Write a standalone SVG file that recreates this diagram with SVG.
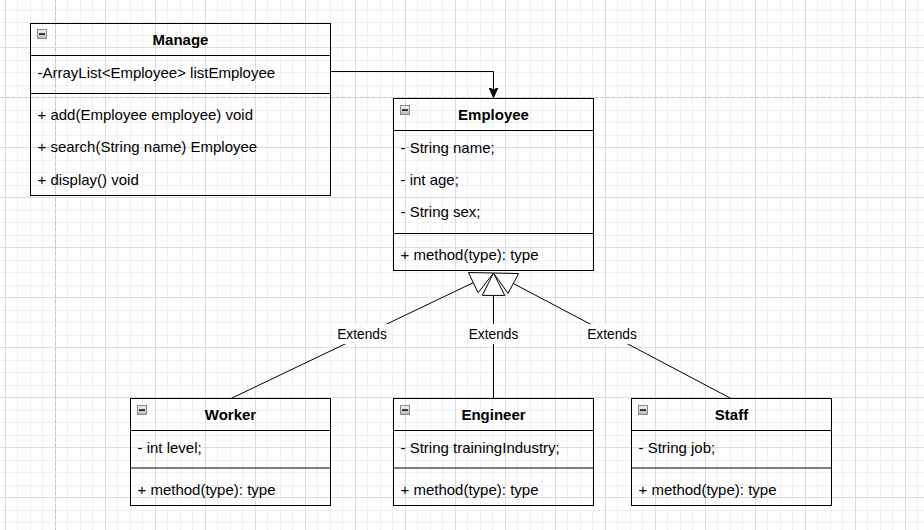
<svg xmlns="http://www.w3.org/2000/svg" width="924" height="530" viewBox="0 0 924 530">
  <defs>
    <pattern id="grid" patternUnits="userSpaceOnUse" x="5" y="-3" width="50" height="50">
      <rect x="12" y="0" width="1" height="50" fill="#f0f0f0"/>
      <rect x="25" y="0" width="1" height="50" fill="#f0f0f0"/>
      <rect x="37" y="0" width="1" height="50" fill="#f0f0f0"/>
      <rect x="0" y="13" width="50" height="1" fill="#f0f0f0"/>
      <rect x="0" y="25" width="50" height="1" fill="#f0f0f0"/>
      <rect x="0" y="38" width="50" height="1" fill="#f0f0f0"/>
      <rect x="0" y="0" width="1" height="50" fill="#dcdcdc"/>
      <rect x="0" y="0" width="50" height="1" fill="#dcdcdc"/>
    </pattern>
    <linearGradient id="icoGrad" x1="0" y1="0" x2="0" y2="1">
      <stop offset="0" stop-color="#f4f4f4"/>
      <stop offset="1" stop-color="#b8b8b8"/>
    </linearGradient>
    <g id="ico">
      <rect x="0.5" y="0.5" width="9" height="9" fill="url(#icoGrad)" stroke="#8a8a8a" stroke-width="1"/>
      <rect x="2" y="4.3" width="6" height="1.6" fill="#111"/>
    </g>
    <marker id="classic" viewBox="0 0 10 12" refX="10" refY="6" markerWidth="10" markerHeight="12" markerUnits="userSpaceOnUse" orient="auto">
      <path d="M0,1.5 L10,6 L0,10.5 L2.5,6 Z" fill="#000" stroke="#000" stroke-width="1"/>
    </marker>
  </defs>
  <style>
    .box { fill: none; stroke: #000; stroke-width: 1; }
    .div { stroke: #000; stroke-width: 1; }
    .t { font-family: "Liberation Sans", Arial, sans-serif; font-size: 15px; fill: #000; }
    .title { font-family: "Liberation Sans", Arial, sans-serif; font-size: 15px; font-weight: bold; fill: #000; text-anchor: middle; }
    .lbl { font-family: "Liberation Sans", Arial, sans-serif; font-size: 13.75px; fill: #000; text-anchor: middle; }
    .edge { fill: none; stroke: #000; stroke-width: 1; }
    .tri { fill: #fff; stroke: #000; stroke-width: 1; }
    .page { stroke: #c4c4c4; stroke-width: 1; stroke-dasharray: 3 3; }
  </style>

  <rect x="0" y="0" width="924" height="530" fill="#fff"/>
  <rect x="0" y="0" width="924" height="530" fill="url(#grid)"/>
  <line class="page" x1="0" y1="97.5" x2="924" y2="97.5"/>
  <line class="page" x1="55.5" y1="0" x2="55.5" y2="530"/>

  <g id="connectors">
    <path class="edge" d="M331,71.5 H493.5 V97.5" marker-end="url(#classic)"/>
    <path class="edge" d="M231,398.5 L473.29,282.66"/>
    <polygon class="tri" points="493.5,273 478.12,292.76 468.46,272.56"/>
    <path class="edge" d="M493.5,398.5 V295.4"/>
    <polygon class="tri" points="493.5,273 504.7,295.4 482.3,295.4"/>
    <path class="edge" d="M731,398.5 L513.31,283.47"/>
    <polygon class="tri" points="493.5,273 518.54,273.57 508.08,293.37"/>
    <rect x="336" y="324" width="52" height="20" fill="#fff"/>
    <text class="lbl" x="362" y="339">Extends</text>
    <rect x="467.5" y="324" width="52" height="20" fill="#fff"/>
    <text class="lbl" x="493.5" y="339">Extends</text>
    <rect x="586" y="324" width="52" height="20" fill="#fff"/>
    <text class="lbl" x="612" y="339">Extends</text>
  </g>

  <g id="manage">
    <rect class="box" x="30.5" y="23.5" width="300" height="172"/>
    <line class="div" x1="30.5" y1="55.5" x2="330.5" y2="55.5"/>
    <line class="div" x1="30.5" y1="93.5" x2="330.5" y2="93.5"/>
    <use href="#ico" x="37" y="29"/>
    <text class="title" x="180.5" y="45">Manage</text>
    <text class="t" x="37.5" y="77.5">-ArrayList&lt;Employee&gt; listEmployee</text>
    <text class="t" x="37.5" y="119.5">+ add(Employee employee) void</text>
    <text class="t" x="37.5" y="152">+ search(String name) Employee</text>
    <text class="t" x="37.5" y="184.5">+ display() void</text>
  </g>

  <g id="employee">
    <rect class="box" x="393.5" y="98.5" width="200" height="172"/>
    <line class="div" x1="393.5" y1="130.5" x2="593.5" y2="130.5"/>
    <line class="div" x1="393.5" y1="233.5" x2="593.5" y2="233.5"/>
    <use href="#ico" x="400" y="105"/>
    <text class="title" x="493.5" y="120">Employee</text>
    <text class="t" x="400.5" y="152.5">- String name;</text>
    <text class="t" x="400.5" y="184.5">- int age;</text>
    <text class="t" x="400.5" y="217">- String sex;</text>
    <text class="t" x="400.5" y="259.5">+ method(type): type</text>
  </g>

  <g id="worker">
    <rect class="box" x="130.5" y="398.5" width="200" height="107"/>
    <line class="div" x1="130.5" y1="430.5" x2="330.5" y2="430.5"/>
    <line class="div" x1="130.5" y1="468" x2="330.5" y2="468"/>
    <use href="#ico" x="137" y="405"/>
    <text class="title" x="230.5" y="420">Worker</text>
    <text class="t" x="137.5" y="452.5">- int level;</text>
    <text class="t" x="137.5" y="494.5">+ method(type): type</text>
  </g>

  <g id="engineer">
    <rect class="box" x="393.5" y="398.5" width="200" height="107"/>
    <line class="div" x1="393.5" y1="430.5" x2="593.5" y2="430.5"/>
    <line class="div" x1="393.5" y1="468" x2="593.5" y2="468"/>
    <use href="#ico" x="400" y="405"/>
    <text class="title" x="493.5" y="420">Engineer</text>
    <text class="t" x="400.5" y="452.5">- String trainingIndustry;</text>
    <text class="t" x="400.5" y="494.5">+ method(type): type</text>
  </g>

  <g id="staff">
    <rect class="box" x="631.5" y="398.5" width="200" height="107"/>
    <line class="div" x1="631.5" y1="430.5" x2="831.5" y2="430.5"/>
    <line class="div" x1="631.5" y1="468" x2="831.5" y2="468"/>
    <use href="#ico" x="638" y="405"/>
    <text class="title" x="731.5" y="420">Staff</text>
    <text class="t" x="638.5" y="452.5">- String job;</text>
    <text class="t" x="638.5" y="494.5">+ method(type): type</text>
  </g>
</svg>
